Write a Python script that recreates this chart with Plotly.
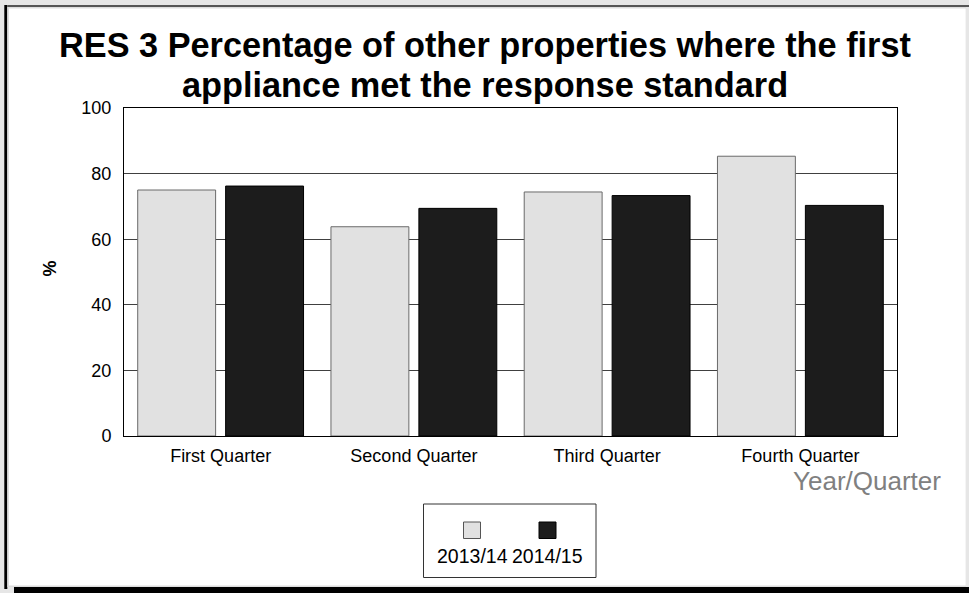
import plotly.graph_objects as go

categories = ["First Quarter", "Second Quarter", "Third Quarter", "Fourth Quarter"]
series_names = ["2013/14", "2014/15"]
values_2013_14 = [75.0, 63.8, 74.4, 85.3]
values_2014_15 = [76.2, 69.4, 73.3, 70.3]
y_ticks = [0, 20, 40, 60, 80, 100]

W, H = 969, 593
L, R, T, B = 124, 72, 108, 157
PW, PH = W - L - R, H - T - B

def px(x):
    return (x - L) / PW

def py(y):
    return (H - B - y) / PH

FONT = "Liberation Sans, Arial, sans-serif"
LIGHT = "#e1e1e1"
DARK = "#1c1c1c"

fig = go.Figure()
fig.add_trace(go.Bar(x=categories, y=values_2013_14, name=series_names[0],
                     marker=dict(color=LIGHT, line=dict(color="#6a6a6a", width=1))))
fig.add_trace(go.Bar(x=categories, y=values_2014_15, name=series_names[1],
                     marker=dict(color=DARK, line=dict(color="#000000", width=1))))

shapes = []
def rect(x0, y0, x1, y1, fill, line=None, lw=0, layer="below"):
    shapes.append(dict(type="rect", xref="paper", yref="paper",
                       x0=px(x0), x1=px(x1), y0=py(y0), y1=py(y1),
                       fillcolor=fill, line=dict(color=line or fill, width=lw),
                       layer=layer))

# outer frame
rect(4.3, 5, 7.3, 589, "#000000")
rect(7.3, 5, 969, 7, "#555555")
rect(7.3, 7, 966, 587, "#dddddd")
rect(9, 8.5, 965.7, 585.5, "#ffffff")
rect(14, 587, 969, 593, "#000000")

# legend box
rect(423.5, 504, 596, 577.5, "#ffffff", "#333333", 1, layer="above")
rect(463.5, 522, 480.5, 538.5, LIGHT, "#555555", 1, layer="above")
rect(539, 522, 556, 538.5, DARK, "#000000", 1, layer="above")

annotations = [
    dict(text="<b>RES 3 Percentage of other properties where the first</b>",
         x=px(485), y=py(44.7), xref="paper", yref="paper",
         xanchor="center", yanchor="middle", showarrow=False,
         font=dict(family=FONT, size=34.3, color="#000000")),
    dict(text="<b>appliance met the response standard</b>",
         x=px(485), y=py(84.5), xref="paper", yref="paper",
         xanchor="center", yanchor="middle", showarrow=False,
         font=dict(family=FONT, size=34.3, color="#000000")),
    dict(text="<b>%</b>", x=px(49), y=py(268.5), xref="paper", yref="paper",
         xanchor="center", yanchor="middle", textangle=-90, showarrow=False,
         font=dict(family=FONT, size=18, color="#000000")),
    dict(text="Year/Quarter", x=px(943), y=py(481), xref="paper", yref="paper",
         xanchor="right", yanchor="middle", showarrow=False,
         font=dict(family=FONT, size=26, color="#808080")),
    dict(text=series_names[0], x=px(472.5), y=py(555.5), xref="paper", yref="paper",
         xanchor="center", yanchor="middle", showarrow=False,
         font=dict(family=FONT, size=19.5, color="#000000")),
    dict(text=series_names[1], x=px(547.7), y=py(555.5), xref="paper", yref="paper",
         xanchor="center", yanchor="middle", showarrow=False,
         font=dict(family=FONT, size=19.5, color="#000000")),
]

fig.update_layout(
    width=W, height=H,
    margin=dict(l=L, r=R, t=T, b=B, pad=0),
    paper_bgcolor="#e6e6e6",
    plot_bgcolor="#ffffff",
    showlegend=False,
    barmode="group",
    bargap=0.09,
    bargroupgap=0.114,
    shapes=shapes,
    annotations=annotations,
    font=dict(family=FONT, size=18, color="#000000"),
)
fig.update_xaxes(showline=True, linecolor="#000000", linewidth=1, mirror=True,
                 ticks="", showgrid=False, ticklabelstandoff=3,
                 tickfont=dict(family=FONT, size=18, color="#000000"))
fig.update_yaxes(range=[0, 100], tickvals=y_ticks, showline=True, linecolor="#000000",
                 linewidth=1, mirror=True, ticks="", showgrid=True,
                 gridcolor="#404040", gridwidth=1, zeroline=False, ticklabelstandoff=8,
                 tickfont=dict(family=FONT, size=18, color="#000000"))

fig.write_html("out.html", config={"displayModeBar": False},
               post_script="document.body.style.margin='0';document.body.style.overflow='hidden';")
